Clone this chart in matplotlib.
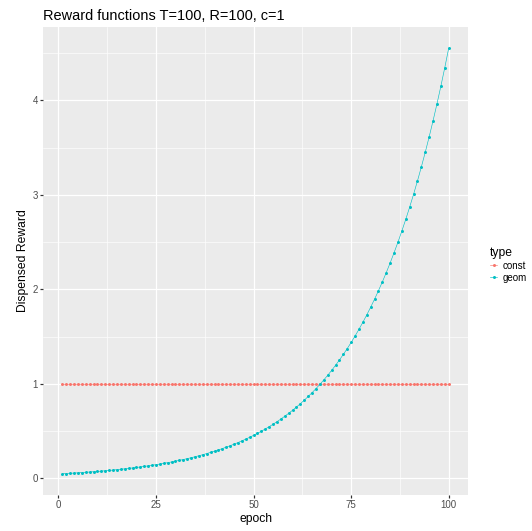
import matplotlib.pyplot as plt
import numpy as np

plt.rcParams['font.family'] = ['Liberation Sans', 'DejaVu Sans']

# Reward per epoch for the two schedules (T=100, R=100, c=1)
epoch = list(range(1, 101))
const_reward = [1.0] * 100
geom_reward = [
    0.04734, 0.04957, 0.05191, 0.05436, 0.05693, 0.05962, 0.06243, 0.06538, 0.06847, 0.07170,
    0.07508, 0.07862, 0.08233, 0.08622, 0.09029, 0.09455, 0.09901, 0.10368, 0.10857, 0.11370,
    0.11907, 0.12469, 0.13058, 0.13674, 0.14319, 0.14995, 0.15703, 0.16444, 0.17220, 0.18033,
    0.18884, 0.19775, 0.20708, 0.21685, 0.22709, 0.23781, 0.24904, 0.26080, 0.27311, 0.28600,
    0.29950, 0.31364, 0.32844, 0.34394, 0.36017, 0.37717, 0.39497, 0.41361, 0.43313, 0.45357,
    0.47498, 0.49740, 0.52088, 0.54547, 0.57122, 0.59818, 0.62641, 0.65598, 0.68694, 0.71936,
    0.75331, 0.78887, 0.82611, 0.86510, 0.90593, 0.94869, 0.99347, 1.04036, 1.08947, 1.14089,
    1.19474, 1.25113, 1.31018, 1.37202, 1.43678, 1.50460, 1.57562, 1.64999, 1.72787, 1.80943,
    1.89483, 1.98427, 2.07793, 2.17601, 2.27871, 2.38627, 2.49890, 2.61685, 2.74036, 2.86971,
    3.00516, 3.14700, 3.29554, 3.45109, 3.61398, 3.78456, 3.96319, 4.15026, 4.34615, 4.55129,
]
series = {"const": const_reward, "geom": geom_reward}
colors = {"const": "#F8766D", "geom": "#00BFC4"}
x_ticks = [0, 25, 50, 75, 100]
y_ticks = [0, 1, 2, 3, 4]

W, H = 532, 531
fig = plt.figure(figsize=(W / 72, H / 72), dpi=72)
ax = fig.add_axes([43 / W, (H - 495) / H, (468 - 43) / W, (495 - 27) / H])
ax.set_facecolor("#EBEBEB")

# ggplot-style grid
for v in x_ticks:
    ax.axvline(v, color="white", lw=1.2, zorder=0)
for v in np.arange(12.5, 105, 25):
    ax.axvline(v, color="white", lw=0.6, zorder=0)
for v in y_ticks:
    ax.axhline(v, color="white", lw=1.2, zorder=0)
for v in np.arange(0.5, 4.8, 1):
    ax.axhline(v, color="white", lw=0.6, zorder=0)

for name, vals in series.items():
    ax.plot(epoch, vals, color=colors[name], lw=0.6, marker="o", ms=3.0,
            mew=0, label=name, zorder=3)

xr = 99 * 0.05
ax.set_xlim(1 - xr, 100 + xr)
lo, hi = min(geom_reward), max(geom_reward)
yr = (hi - lo) * 0.05
ax.set_ylim(lo - yr, hi + yr)

ax.set_xticks(x_ticks)
ax.set_yticks(y_ticks)
ax.tick_params(colors="#333333", labelcolor="#4D4D4D", labelsize=9.7,
               length=3, width=1.2, pad=2)
for s in ax.spines.values():
    s.set_visible(False)

ax.set_xlabel("epoch", fontsize=12.1, color="black", labelpad=3)
ax.set_ylabel("Dispensed Reward", fontsize=12.1, color="black", labelpad=4)
ax.set_title("Reward functions T=100, R=100, c=1", fontsize=14.5, loc="left",
             x=0, pad=7)

leg = fig.legend(loc="upper left", bbox_to_anchor=(481 / W, 1 - 238 / H),
                 title="type", frameon=False, fontsize=9.7, title_fontsize=12.1,
                 handlelength=0.8, handletextpad=0.5, labelspacing=0.2)
leg._legend_box.align = "left"
for h in leg.legend_handles:
    h.set_markersize(3.0)

fig.savefig("out.png", dpi=72)
